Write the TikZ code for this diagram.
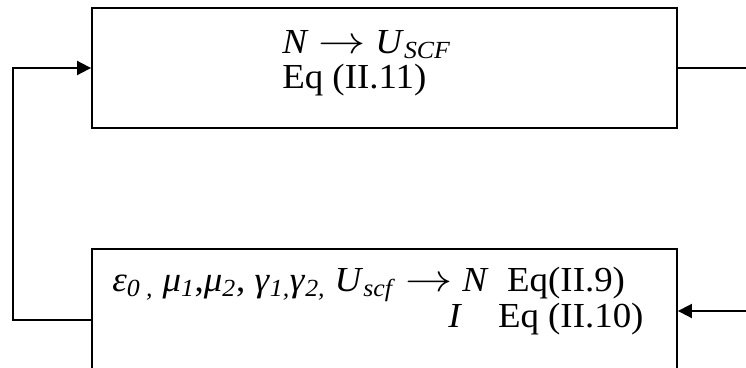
\documentclass[tikz,border=0pt]{standalone}
\usepackage{fontspec}
\setmainfont{Liberation Serif}[FakeStretch=1.05]
\usepackage{tikz}
\usetikzlibrary{arrows.meta, positioning, calc}
\newcommand{\sbs}[1]{\textsubscript{\textit{#1}}}
\newcommand{\arr}{\scalebox{1.35}[1.1]{$\rightarrow$}}

\begin{document}
\begin{tikzpicture}[
    box/.style={rectangle, draw=black, line width=1.3pt,
                minimum width=14.625cm, minimum height=#1, inner sep=0pt},
    lbl/.style={inner sep=0pt, anchor=base west,
                font=\fontsize{25}{30}\selectfont},
    link/.style={line width=1.3pt, black},
  ]
    \useasboundingbox (0,0) rectangle (18.65,-9.175);
    \clip (0,0) rectangle (18.65,-9.175);

    \node[box=3cm] (conv) at (9.6125,-1.7) {};
    \node[box=3.55cm] (solve) at (9.6125,-8.0) {};

    \node[lbl] (convA) at (7.05,-1.325)
      {\textit{N}\;\arr\;\textit{U}\sbs{SCF}};
    \node[lbl] (convB) at (7.05,-2.2) {Eq (II.11)};
    \node[lbl] (solveA) at (2.8,-7.275)
      {\textit{ε}\sbs{0 ,} \textit{μ}\sbs{1},\textit{μ}\sbs{2},
       \textit{γ}\sbs{1,}\textit{γ}\sbs{2,} \textit{U}\sbs{scf}\;\arr\;\textit{N}~~Eq(II.9)};
    \node[lbl] (solveB) at (11.2,-8.175) {\textit{I}\hspace{0.9cm}Eq (II.10)};

    \coordinate (loop) at (0.325,-8.0);
    \coordinate (outR) at (18.65,-1.7);
    \coordinate (inR) at (18.65,-7.775);

    \draw[link, -{Triangle[length=10pt, width=10pt]}]
      (solve.west) -- (loop) |- (conv.west);
    \draw[link] (conv.east) -- (outR);
    \draw[link, -{Triangle[length=10pt, width=10pt]}]
      (inR) -- (inR -| solve.east);
  \end{tikzpicture}
\end{document}
